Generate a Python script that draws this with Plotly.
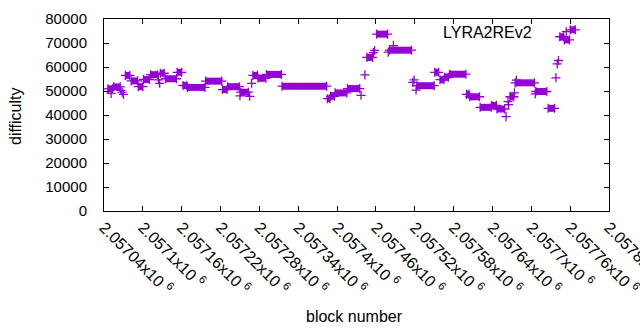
import plotly.graph_objects as go

# Plateaus of constant difficulty: first block, last block, difficulty
seg_start = [2057046, 2057055, 2057073, 2057082, 2057093, 2057101, 2057112, 2057127,
             2057135, 2057153, 2057162, 2057169, 2057197, 2057223, 2057231, 2057251,
             2057270, 2057278, 2057291, 2057315, 2057385, 2057390, 2057397, 2057416,
             2057446, 2057461, 2057481, 2057523, 2057551, 2057559, 2057566, 2057574,
             2057600, 2057605, 2057621, 2057639, 2057647, 2057667, 2057675, 2057707,
             2057726, 2057744, 2057751, 2057760]
seg_end = [2057053, 2057065, 2057080, 2057092, 2057100, 2057110, 2057123, 2057133,
           2057152, 2057160, 2057168, 2057196, 2057222, 2057230, 2057249, 2057263,
           2057277, 2057290, 2057314, 2057384, 2057389, 2057396, 2057415, 2057435,
           2057455, 2057478, 2057515, 2057550, 2057557, 2057565, 2057572, 2057599,
           2057604, 2057620, 2057638, 2057646, 2057659, 2057673, 2057705, 2057724,
           2057736, 2057750, 2057759, 2057768]
seg_value = [50900, 51700, 56500, 54200, 51800, 54800, 56800, 57400,
             55100, 57800, 52300, 51500, 54100, 50600, 51800, 49500,
             56500, 55300, 56900, 52000, 46800, 47800, 49200, 51000,
             64000, 73700, 67000, 52200, 57800, 54700, 55700, 57000,
             48600, 47600, 43200, 44000, 42500, 47600, 53400, 49800,
             42800, 72600, 71300, 75500]

# Isolated blocks
pt_block = [2057051, 2057066, 2057068, 2057070, 2057124, 2057126, 2057250, 2057265,
            2057268, 2057437, 2057443, 2057456, 2057458, 2057479, 2057487, 2057517,
            2057519, 2057522, 2057661, 2057664, 2057665, 2057674, 2057677, 2057706,
            2057738, 2057740, 2057742, 2057754]
pt_value = [49000, 50300, 49500, 48600, 54600, 53200, 48000, 47800,
            53200, 48200, 56700, 66000, 66900, 66200, 68900, 53600,
            54600, 50400, 39300, 45600, 44300, 49200, 54500, 48800,
            55500, 61300, 62700, 74700]

x_ticks = [2057040, 2057100, 2057160, 2057220, 2057280, 2057340, 2057400,
           2057460, 2057520, 2057580, 2057640, 2057700, 2057760, 2057820]
x_tick_labels = ["2.05704", "2.0571", "2.05716", "2.05722", "2.05728", "2.05734", "2.0574",
                 "2.05746", "2.05752", "2.05758", "2.05764", "2.0577", "2.05776", "2.05782"]

COLOR = "#9400D3"
FONT = "Liberation Sans, Arial, sans-serif"

sx, sy = [], []
for s, e, v in zip(seg_start, seg_end, seg_value):
    sx += [s, e, None]
    sy += [v, v, None]

fig = go.Figure()
fig.add_trace(go.Scatter(
    x=sx, y=sy, mode="lines+markers", connectgaps=False,
    line=dict(color=COLOR, width=7),
    marker=dict(symbol="cross-thin", size=6.5, line=dict(color=COLOR, width=1.3)),
    showlegend=False, hoverinfo="skip"))
fig.add_trace(go.Scatter(
    x=pt_block, y=pt_value, mode="markers",
    marker=dict(symbol="cross-thin", size=6.5, line=dict(color=COLOR, width=1.3)),
    showlegend=False, hoverinfo="skip"))

axis_common = dict(showline=True, linecolor="black", linewidth=1, mirror="allticks",
                   ticks="inside", ticklen=5, tickcolor="black", showgrid=False,
                   zeroline=False, automargin=False, ticklabeloverflow="allow")

fig.update_xaxes(range=[2057040, 2057820], tickmode="array", tickvals=x_ticks,
                 ticktext=[t + "x10 <sup>6</sup>" for t in x_tick_labels],
                 tickangle=45, tickfont=dict(family=FONT, size=16, color="black"),
                 **axis_common)
fig.update_yaxes(range=[0, 80000], tickmode="linear", tick0=0, dtick=10000,
                 tickformat="d", ticklabelstandoff=13,
                 tickfont=dict(family=FONT, size=15, color="black"), **axis_common)

L, R, T, B = 104, 31, 19, 119
W, H = 640, 330
pw, ph = W - L - R, H - T - B

def px(x):
    return (x - L) / pw

def py(y):
    return (H - B - y) / ph

fig.update_layout(
    width=W, height=H, autosize=False,
    margin=dict(l=L, r=R, t=T, b=B),
    plot_bgcolor="white", paper_bgcolor="white",
    font=dict(family=FONT, size=16, color="black"),
    annotations=[
        dict(text="LYRA2REv2", x=px(534), y=py(32), xref="paper", yref="paper",
             xanchor="right", yanchor="middle", showarrow=False,
             font=dict(family=FONT, size=16, color="black")),
        dict(text="difficulty", x=px(16), y=py(116), xref="paper", yref="paper",
             xanchor="center", yanchor="middle", textangle=-90, showarrow=False,
             font=dict(family=FONT, size=16, color="black")),
        dict(text="block number", x=px(354), y=py(316), xref="paper", yref="paper",
             xanchor="center", yanchor="middle", showarrow=False,
             font=dict(family=FONT, size=16, color="black")),
    ],
)

fig.write_html("out.html", config={"displayModeBar": False},
               post_script="document.body.style.margin='0';")
